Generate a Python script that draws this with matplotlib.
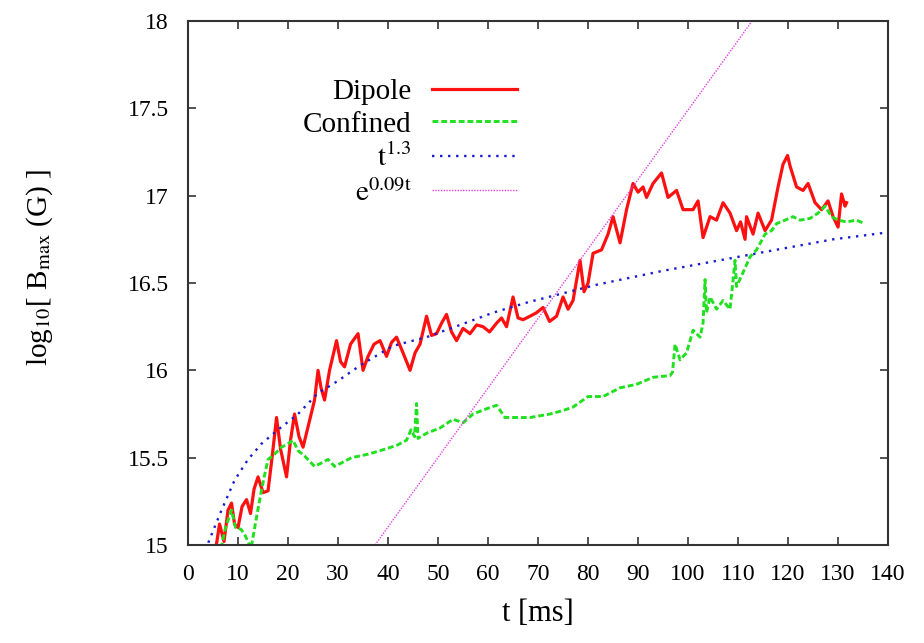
import numpy as np
import matplotlib
matplotlib.use("Agg")
import matplotlib.pyplot as plt
from matplotlib.ticker import FuncFormatter

plt.rcParams['font.family'] = ['Liberation Serif', 'DejaVu Serif']
plt.rcParams['mathtext.fontset'] = 'stix'

# Dipole run
t_dipole = [5.5, 6.3, 7.2, 8.0, 8.7, 9.3, 10.0, 10.8, 11.7, 12.5, 13.2, 14.0, 15.0, 16.0,
            16.8, 17.7, 18.5, 19.7, 20.5, 21.3, 22.2, 23.0, 24.2, 25.3, 26.0, 26.6, 27.3,
            28.3, 29.7, 30.5, 31.3, 32.5, 34.0, 35.0, 36.0, 37.2, 38.4, 39.7, 40.7, 41.7,
            43.0, 44.4, 45.4, 46.4, 47.7, 48.7, 49.7, 50.7, 51.7, 52.7, 53.7, 55.0, 56.4,
            57.7, 59.0, 60.3, 61.7, 62.7, 63.7, 65.0, 66.0, 67.0, 68.4, 69.7, 71.0, 72.3,
            73.7, 75.0, 76.0, 77.0, 78.4, 79.2, 80.0, 81.0, 82.7, 84.0, 85.0, 86.4, 87.7,
            89.0, 90.0, 91.0, 91.7, 93.0, 94.7, 96.0, 97.7, 99.0, 101.0, 102.0, 103.0,
            104.4, 105.7, 107.0, 108.4, 109.7, 110.5, 111.4, 111.7, 113.0, 114.0, 115.4,
            116.7, 118.0, 119.0, 119.9, 120.4, 121.7, 123.0, 124.0, 125.4, 126.7, 128.0,
            129.0, 130.0, 130.7, 131.4, 131.7]
b_dipole = [14.97, 15.12, 15.02, 15.20, 15.24, 15.12, 15.10, 15.22, 15.26, 15.18, 15.32,
            15.39, 15.30, 15.31, 15.50, 15.73, 15.55, 15.39, 15.60, 15.75, 15.62, 15.56,
            15.70, 15.83, 16.00, 15.90, 15.83, 16.00, 16.17, 16.05, 16.02, 16.15, 16.21,
            16.00, 16.08, 16.15, 16.17, 16.08, 16.16, 16.19, 16.10, 16.00, 16.10, 16.15,
            16.31, 16.20, 16.21, 16.27, 16.32, 16.22, 16.17, 16.24, 16.21, 16.26, 16.25,
            16.22, 16.27, 16.30, 16.25, 16.42, 16.30, 16.29, 16.31, 16.33, 16.36, 16.28,
            16.31, 16.42, 16.35, 16.40, 16.63, 16.45, 16.50, 16.67, 16.69, 16.78, 16.88,
            16.73, 16.92, 17.07, 17.02, 17.05, 16.99, 17.07, 17.13, 16.99, 17.03, 16.92,
            16.92, 16.97, 16.76, 16.88, 16.86, 16.96, 16.90, 16.80, 16.85, 16.75, 16.88,
            16.78, 16.90, 16.80, 16.86, 17.05, 17.18, 17.23, 17.17, 17.05, 17.03, 17.07,
            16.96, 16.92, 16.97, 16.88, 16.82, 17.01, 16.94, 16.96]

# Confined run
t_conf = [6.6, 7.5, 8.7, 9.5, 10.6, 11.5, 12.6, 13.7, 14.6, 15.3, 16.0, 17.3, 18.7, 20.0,
          21.0, 22.0, 23.3, 24.3, 25.3, 26.7, 28.0, 29.3, 30.7, 32.7, 34.4, 36.0, 38.4,
          41.7, 43.7, 44.6, 45.3, 45.7, 46.0, 47.7, 50.4, 53.0, 55.0, 57.0, 59.7, 61.7,
          63.4, 65.7, 68.4, 70.4, 72.4, 75.0, 77.0, 80.0, 83.0, 86.4, 89.7, 93.0, 96.4,
          96.9, 97.4, 98.4, 99.7, 101.0, 102.4, 103.0, 103.4, 103.7, 104.4, 105.7, 107.0,
          108.4, 109.4, 109.7, 111.0, 112.4, 113.7, 115.4, 116.7, 117.7, 119.4, 121.0,
          122.4, 124.4, 126.0, 127.4, 128.7, 130.0, 131.7, 133.7, 135.3]
b_conf = [14.98, 15.10, 15.20, 15.10, 15.09, 15.05, 14.98, 15.16, 15.30, 15.40, 15.49,
          15.52, 15.56, 15.58, 15.60, 15.54, 15.51, 15.48, 15.45, 15.47, 15.49, 15.45,
          15.47, 15.50, 15.51, 15.52, 15.54, 15.57, 15.60, 15.66, 15.62, 15.81, 15.61,
          15.64, 15.67, 15.72, 15.70, 15.75, 15.78, 15.80, 15.73, 15.73, 15.73, 15.74,
          15.75, 15.77, 15.79, 15.85, 15.85, 15.90, 15.92, 15.96, 15.97, 15.99, 16.15,
          16.06, 16.10, 16.23, 16.19, 16.27, 16.52, 16.33, 16.42, 16.35, 16.40, 16.35,
          16.63, 16.48, 16.56, 16.65, 16.69, 16.78, 16.80, 16.84, 16.86, 16.88, 16.86,
          16.87, 16.90, 16.94, 16.88, 16.86, 16.85, 16.86, 16.84]

# power-law fit curve
t_pow = [3.5, 4.0, 6.7, 9.3, 12.0, 14.7, 18.0, 22.0, 26.0, 30.0, 34.5, 41.0, 47.7, 54.4,
         61.0, 68.0, 81.7, 95.0, 103.5, 115.7, 129.0, 140.0]
b_pow = [14.97, 15.01, 15.20, 15.37, 15.49, 15.58, 15.66, 15.75, 15.87, 15.94, 16.03,
         16.14, 16.19, 16.26, 16.33, 16.39, 16.49, 16.57, 16.615, 16.68, 16.75, 16.79]

# exponential fit (straight in log scale)
t_exp = [37.4, 112.8]
b_exp = [15.0, 18.0]

fig = plt.figure(figsize=(9.24, 6.43), dpi=100)
ax = fig.add_axes([0.2035, 0.1524, 0.7576, 0.8149])

ax.plot(t_dipole, b_dipole, color='#ff1010', lw=2.3, label='Dipole')
ax.plot(t_conf, b_conf, color='#20e020', lw=2.1, linestyle=(0, (2.0, 1.0)), label='Confined')
ax.plot(t_pow, b_pow, color='#1a1ad0', lw=1.7, linestyle=(0, (1, 2.4)),
        label=r'$\mathrm{t}^{1.3}$')
ax.plot(t_exp, b_exp, color='#e040e0', lw=1.0, linestyle=(0, (1, 1)),
        label=r'$\mathrm{e}^{0.09\mathrm{t}}$')

ax.set_xlim(0, 140)
ax.set_ylim(15, 18)
ax.set_xticks(np.arange(0, 141, 10))
ax.set_yticks(np.arange(15, 18.01, 0.5))
ax.yaxis.set_major_formatter(FuncFormatter(lambda v, p: '%g' % v))
ax.tick_params(direction='in', length=6, width=1.2, top=True, right=True,
               labelsize=17, pad=14, colors='#333333', labelcolor='black')
for s in ax.spines.values():
    s.set_color('#333333')
    s.set_linewidth(1.5)

ax.set_xlabel('t [ms]', fontsize=22, labelpad=10)
ax.set_ylabel(r'log$_{10}$[ B$_{\rm max}$ (G) ]', fontsize=21)
ax.yaxis.set_label_coords(-0.19, 0.53)

ax.legend(loc='upper right', bbox_to_anchor=(0.503, 0.935), markerfirst=False,
          frameon=False, fontsize=21, handlelength=2.9, handletextpad=0.7,
          labelspacing=0.22, borderpad=0.3)

fig.savefig('out.png', dpi=100)
